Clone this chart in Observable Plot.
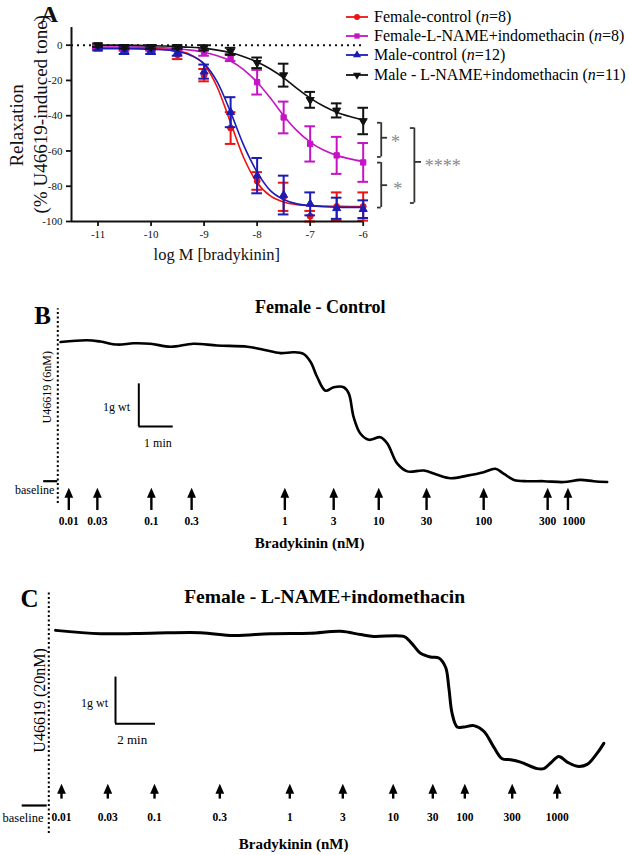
<!DOCTYPE html>
<html><head><meta charset="utf-8">
<script src="https://cdn.jsdelivr.net/npm/d3@7"></script>
<script src="https://cdn.jsdelivr.net/npm/@observablehq/plot@0.6"></script>
<style>
body{margin:0;background:#fff;}
#wrap{position:relative;width:630px;height:855px;overflow:hidden;font-family:"Liberation Serif",serif;background:#fff;}
#wrap svg{position:absolute;left:0;}
#wrap svg [aria-label^="x-axis"] line, #wrap svg [aria-label^="x-axis"] path,
#wrap svg [aria-label^="y-axis"] line, #wrap svg [aria-label^="y-axis"] path{stroke-width:1.8;}
</style></head><body><div id="wrap"></div>
<script>
// ---------- Panel A data ----------
const logDose = [-11, -10.5, -10, -9.5, -9, -8.5, -8, -7.5, -7, -6.5, -6];
const femaleControlMean = [-1, -2, -2, -5.5, -17, -47, -77, -86, -97, -91.5, -91.5];
const femaleControlSem  = [1, 1, 1, 2.4, 3.5, 9, 5, 8, 3, 8, 8];
const femaleLnameMean   = [-1, -2, -2, -2, -4, -7, -21, -41, -56, -62.5, -66.5];
const femaleLnameSem    = [1, 1, 1, 1, 2, 2, 7, 9, 10, 10.5, 11];
const maleControlMean   = [-2, -3, -3, -4, -15, -38, -74, -85, -90, -92.5, -93];
const maleControlSem    = [1, 2, 2, 2, 4, 8.5, 10, 11, 6.5, 6, 5];
const maleLnameMean     = [0, -1, -1, -1, -1.5, -3.5, -10, -17, -31, -37, -43];
const maleLnameSem      = [1, 1, 1, 1, 1.5, 2, 3, 6.5, 4.5, 4, 7.5];

// fitted curves at quarter-decade steps
const fitDose = [-11, -10.75, -10.5, -10.25, -10, -9.75, -9.5, -9.25, -9, -8.75, -8.5, -8.25, -8, -7.75, -7.5, -7.25, -7, -6.75, -6.5, -6.25, -6];
const femaleControlFit = [-1.5, -1.5, -1.5, -1.6, -1.8, -2.2, -3.2, -5.5, -11, -24, -44, -64, -78, -85.5, -89, -90.5, -91, -91.3, -91.4, -91.5, -91.5];
const femaleLnameFit   = [-1, -1, -1, -1.1, -1.2, -1.5, -2, -2.8, -4, -6, -9, -14, -21, -30, -40, -48.5, -55, -59.5, -62.5, -64.5, -66];
const maleControlFit   = [-2, -2, -2, -2.1, -2.3, -2.7, -3.6, -5.8, -10.5, -21, -38, -57, -72, -82.5, -87.5, -90, -91, -91.6, -91.9, -92, -92];
const maleLnameFit     = [0, 0, 0, -0.1, -0.3, -0.5, -0.8, -1.2, -1.8, -2.8, -4.3, -6.5, -9.5, -13.5, -18.5, -24.5, -30, -34.5, -38, -40.5, -42.5];

const seriesNames = ["Female-control", "Female-L-NAME+indomethacin", "Male-control", "Male - L-NAME+indomethacin"];
const seriesN = [8, 8, 12, 11];
const xTicksA = [-11, -10, -9, -8, -7, -6];
const yTicksA = [0, -20, -40, -60, -80, -100];

// ---------- Panel B data (time in min, tension in g above baseline) ----------
const traceBTime    = [0.08, 0.85, 1.24, 1.73, 2.20, 2.69, 3.28, 3.94, 4.63, 5.51, 5.98, 6.47, 6.85, 7.14, 7.35, 7.54, 7.78, 8.02, 8.31, 8.46, 8.60, 8.80, 9.04, 9.38, 9.58, 9.87, 10.16, 10.64, 11.03, 11.42, 11.90, 12.38, 12.72, 12.97, 13.26, 13.65, 14.13, 14.71, 15.19, 15.58, 15.97];
const traceBTension = [3.26, 3.30, 3.27, 3.20, 3.23, 3.22, 3.15, 3.22, 3.18, 3.15, 3.08, 3.00, 3.02, 2.98, 2.79, 2.44, 2.12, 2.20, 2.20, 2.05, 1.50, 1.11, 0.97, 1.03, 0.88, 0.41, 0.23, 0.25, 0.15, 0.07, 0.13, 0.21, 0.29, 0.17, 0.03, 0.00, 0.00, -0.02, 0.03, 0.00, -0.02];
const doseLabels = ["0.01", "0.03", "0.1", "0.3", "1", "3", "10", "30", "100", "300", "1000"];
const doseTimesB = [0.32, 1.15, 2.72, 3.89, 6.60, 8.02, 9.33, 10.72, 12.38, 14.24, 14.83];

// ---------- Panel C data ----------
const traceCTime    = [0.34, 2.59, 5.09, 7.59, 9.25, 11.09, 13.08, 14.59, 15.59, 16.25, 17.75, 18.09, 18.59, 19.09, 19.50, 19.84, 20.00, 20.17, 20.42, 20.75, 21.25, 21.75, 22.25, 22.67, 23.09, 23.59, 24.42, 24.75, 25.09, 25.50, 25.92, 26.42, 26.92, 27.42, 27.75];
const traceCTension = [3.75, 3.68, 3.69, 3.70, 3.64, 3.68, 3.69, 3.73, 3.66, 3.62, 3.62, 3.50, 3.26, 3.18, 3.16, 2.96, 2.53, 1.96, 1.68, 1.68, 1.71, 1.59, 1.25, 1.00, 0.98, 0.93, 0.79, 0.79, 0.91, 1.05, 0.93, 0.84, 0.88, 1.12, 1.33];
const doseTimesC = [0.635, 2.95, 5.285, 8.55, 12.05, 14.7, 17.22, 19.2, 20.8, 23.17, 25.42];

// ---------- helpers ----------
const serif = "'Liberation Serif','Times New Roman',serif";
const wrap = document.getElementById("wrap");
const triangleDown = {draw(ctx, size) {
  const y = Math.sqrt(size / (Math.sqrt(3) * 3));
  ctx.moveTo(0, 2 * y); ctx.lineTo(-Math.sqrt(3) * y, -y); ctx.lineTo(Math.sqrt(3) * y, -y); ctx.closePath();
}};
const arrowHead = {draw(ctx) { ctx.moveTo(0, 0); ctx.lineTo(-4.4, 10); ctx.lineTo(4.4, 10); ctx.closePath(); }};

const colors = ["#ee1111", "#c414c4", "#1c1cb4", "#111111"];
const symbols = ["circle", "square", "triangle", triangleDown];
const d3symbols = [d3.symbolCircle, d3.symbolSquare, d3.symbolTriangle, triangleDown];
const means = [femaleControlMean, femaleLnameMean, maleControlMean, maleLnameMean];
const sems = [femaleControlSem, femaleLnameSem, maleControlSem, maleLnameSem];
const fits = [femaleControlFit, femaleLnameFit, maleControlFit, maleLnameFit];
const bracket = {stroke: "#333", strokeWidth: 1.8};
const star = {text: d => d, dy: 4, fontSize: 18, fill: "#888", fontFamily: serif};

function place(svg, top) { svg.style.top = top + "px"; wrap.appendChild(svg); }

// ---------- Panel A ----------
const marksA = [
  Plot.ruleY([0], {x1: -11.5, x2: -6, strokeDasharray: "2,4", strokeWidth: 2}),
];
seriesNames.forEach((name, k) => {
  const pts = logDose.map((x, i) => ({x, y: means[k][i], lo: means[k][i] - sems[k][i], hi: means[k][i] + sems[k][i]}));
  const fit = fitDose.map((x, i) => ({x, y: fits[k][i]}));
  const c = colors[k];
  marksA.push(
    Plot.line(fit, {x: "x", y: "y", stroke: c, strokeWidth: 1.6, curve: "monotone-x"}),
    Plot.ruleX(pts, {x: "x", y1: "lo", y2: "hi", stroke: c, strokeWidth: 2}),
    Plot.ruleY(pts, {y: "lo", x1: d => d.x - 0.1, x2: d => d.x + 0.1, stroke: c, strokeWidth: 2}),
    Plot.ruleY(pts, {y: "hi", x1: d => d.x - 0.1, x2: d => d.x + 0.1, stroke: c, strokeWidth: 2}),
    Plot.dot(pts, {x: "x", y: "y", symbol: symbols[k], r: 3, fill: c, stroke: c, strokeWidth: 1})
  );
});
marksA.push(
  Plot.ruleX([-11.5], {y1: -100, y2: 10, strokeWidth: 2}),
  Plot.ruleY([-100], {x1: -11.5, x2: -6, strokeWidth: 2}),
  // significance brackets
  Plot.ruleX([-5.66], {y1: -44, y2: -63.4, ...bracket}),
  Plot.ruleY([-44, -63.4], {x1: -5.73, x2: -5.66, ...bracket}),
  Plot.ruleY([-52.5], {x1: -5.66, x2: -5.54, ...bracket}),
  Plot.ruleX([-5.66], {y1: -66.6, y2: -92.1, ...bracket}),
  Plot.ruleY([-66.6, -92.1], {x1: -5.73, x2: -5.66, ...bracket}),
  Plot.ruleY([-79.4], {x1: -5.66, x2: -5.54, ...bracket}),
  Plot.ruleX([-5.035], {y1: -47, y2: -89.5, ...bracket}),
  Plot.ruleY([-47, -89.5], {x1: -5.11, x2: -5.035, ...bracket}),
  Plot.ruleY([-66.2], {x1: -5.035, x2: -4.9, ...bracket}),
  Plot.text(["*"], {...star, x: -5.39, y: -53}),
  Plot.text(["*"], {...star, x: -5.35, y: -79.4}),
  Plot.text(["****"], {...star, x: -4.5, y: -66.2}),
  // labels
  Plot.text(["A"], {text: d => d, x: -11.914, y: 17.5, fontSize: 24, fontWeight: "bold", fontFamily: serif}),
  Plot.text(["Relaxation"], {text: d => d, x: -12.536, y: -45.5, rotate: -90, fontSize: 19, fontFamily: serif}),
  Plot.text(["(% U46619-induced tone)"], {text: d => d, x: -12.084, y: -39.2, rotate: -90, fontSize: 19, fontFamily: serif}),
  Plot.text(["log M [bradykinin]"], {text: d => d, x: -8.76, y: -119.1, fontSize: 16.5, fontFamily: serif})
);
const svgA = Plot.plot({
  width: 630, height: 270,
  marginLeft: 71, marginRight: 267.3, marginTop: 27.04, marginBottom: 49,
  style: {fontFamily: serif, fontSize: "11px", color: "#111", background: "transparent", overflow: "visible"},
  x: {domain: [-11.5, -6], ticks: xTicksA, tickFormat: d => String(d), tickSize: 5, tickPadding: 4, label: null},
  y: {domain: [-100, 10], ticks: yTicksA, tickFormat: d => String(d), tickSize: 5, label: null},
  marks: marksA
});
place(svgA, 0);

// legend (HTML)
const legend = document.createElement("div");
legend.style.cssText = "position:absolute;left:346px;top:7px;font:16px 'Liberation Serif',serif;color:#000;";
seriesNames.forEach((name, k) => {
  const row = document.createElement("div");
  row.style.cssText = "display:flex;align-items:center;height:19.4px;white-space:nowrap;";
  const sym = d3.symbol(d3symbols[k], 28)();
  row.innerHTML = `<svg width="23" height="12" style="position:static;margin-right:5px;overflow:visible"><line x1="0" x2="22" y1="6" y2="6" stroke="${colors[k]}" stroke-width="1.8"/><path transform="translate(11,6)" d="${sym}" fill="${colors[k]}"/></svg><span>${name} (<i>n</i>=${seriesN[k]})</span>`;
  legend.appendChild(row);
});
wrap.appendChild(legend);

// ---------- Panel B ----------
const traceB = traceBTime.map((t, i) => ({t, g: traceBTension[i]}));
const dosesB = doseTimesB.map((t, i) => ({t, label: doseLabels[i]}));
const svgB = Plot.plot({
  width: 630, height: 285,
  marginLeft: 57.3, marginRight: 22.3, marginTop: 14.3, marginBottom: 6,
  style: {fontFamily: serif, background: "transparent", overflow: "visible"},
  x: {domain: [0, 16], axis: null},
  y: {domain: [-1.6, 4.6], axis: null},
  marks: [
    Plot.ruleX([0], {y1: -0.52, y2: 4.04, strokeDasharray: "2,2.5", strokeWidth: 2}),
    Plot.line(traceB, {x: "t", y: "g", strokeWidth: 2.6, curve: "catmull-rom"}),
    Plot.ruleX([2.355], {y1: 1.28, y2: 2.28, strokeWidth: 2}),
    Plot.ruleY([1.28], {x1: 2.355, x2: 3.355, strokeWidth: 2}),
    Plot.ruleY([0], {x1: -0.41, x2: 0, strokeWidth: 2.2}),
    Plot.ruleX(dosesB, {x: "t", y1: -0.686, y2: -0.3, strokeWidth: 2.4}),
    Plot.dot(dosesB, {x: "t", y: -0.155, symbol: arrowHead, r: 4, fill: "black", stroke: "none"}),
    Plot.text(dosesB, {x: d => d.label === "1000" ? d.t + 0.17 : d.t, y: -0.95, text: "label", fontWeight: "bold", fontSize: 11.5}),
    Plot.text(["B"], {text: d => d, x: -0.44, y: 3.88, fontSize: 25, fontWeight: "bold"}),
    Plot.text(["Female - Control"], {text: d => d, x: 7.63, y: 4.07, fontSize: 18, fontWeight: "bold"}),
    Plot.text(["U46619 (6nM)"], {text: d => d, x: -0.31, y: 2.2, rotate: -90, fontSize: 12}),
    Plot.text(["1g wt"], {text: d => d, x: 1.71, y: 1.73, fontSize: 12}),
    Plot.text(["1 min"], {text: d => d, x: 2.91, y: 0.89, fontSize: 12}),
    Plot.text(["baseline"], {text: d => d, x: -0.1, y: -0.22, textAnchor: "end", fontSize: 12}),
    Plot.text(["Bradykinin (nM)"], {text: d => d, x: 7.32, y: -1.45, fontSize: 15, fontWeight: "bold"})
  ]
});
place(svgB, 270);

// ---------- Panel C ----------
const traceC = traceCTime.map((t, i) => ({t, g: traceCTension[i]}));
const dosesC = doseTimesC.map((t, i) => ({t, label: doseLabels[i]}));
const svgC = Plot.plot({
  width: 630, height: 300,
  marginLeft: 48.3, marginRight: 21.7, marginTop: 16.5, marginBottom: 3.3,
  style: {fontFamily: serif, background: "transparent", overflow: "visible"},
  x: {domain: [0, 28], axis: null},
  y: {domain: [-1.0, 5.0], axis: null},
  marks: [
    Plot.ruleX([0], {y1: -0.6, y2: 4.6, strokeDasharray: "2,2.5", strokeWidth: 2}),
    Plot.line(traceC, {x: "t", y: "g", strokeWidth: 3, curve: "catmull-rom"}),
    Plot.ruleX([3.335], {y1: 1.75, y2: 2.75, strokeWidth: 2}),
    Plot.ruleY([1.75], {x1: 3.335, x2: 5.335, strokeWidth: 2}),
    Plot.ruleY([0], {x1: -1.33, x2: -0.08, strokeWidth: 2.2}),
    Plot.ruleX(dosesC, {x: "t", y1: 0.137, y2: 0.33, strokeWidth: 2.4}),
    Plot.dot(dosesC, {x: "t", y: 0.465, symbol: arrowHead, r: 4, fill: "black", stroke: "none"}),
    Plot.text(dosesC, {x: "t", y: -0.25, text: "label", fontWeight: "bold", fontSize: 11.5}),
    Plot.text(["C"], {text: d => d, x: -0.965, y: 4.43, fontSize: 25, fontWeight: "bold"}),
    Plot.text(["Female - L-NAME+indomethacin"], {text: d => d, x: 13.79, y: 4.47, fontSize: 19.5, fontWeight: "bold"}),
    Plot.text(["U46619 (20nM)"], {text: d => d, x: -0.45, y: 2.25, rotate: -90, fontSize: 16}),
    Plot.text(["1g wt"], {text: d => d, x: 2.285, y: 2.19, fontSize: 12}),
    Plot.text(["2 min"], {text: d => d, x: 4.17, y: 1.41, fontSize: 13}),
    Plot.text(["baseline"], {text: d => d, x: -0.265, y: -0.26, textAnchor: "end", fontSize: 12.5}),
    Plot.text(["Bradykinin (nM)"], {text: d => d, x: 12.24, y: -0.82, fontSize: 15, fontWeight: "bold"})
  ]
});
place(svgC, 555);
</script></body></html>
